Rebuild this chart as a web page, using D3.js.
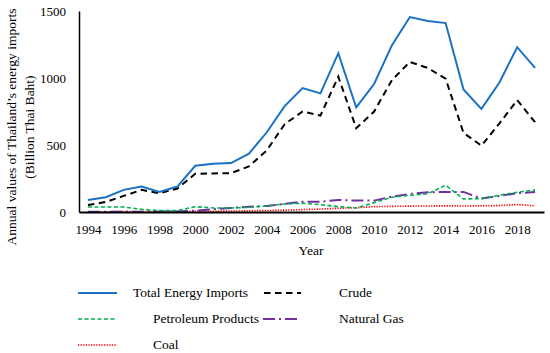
<!DOCTYPE html>
<html><head><meta charset="utf-8">
<script src="https://cdn.jsdelivr.net/npm/d3@7"></script>
<style>body{margin:0;background:#fff}svg{display:block}</style>
</head><body><svg id="c" width="550" height="353"></svg>
<script>
const years = d3.range(1994, 2020);
const totalImports = [90,110,165,190,150,190,345,360,365,435,595,790,925,885,1185,780,955,1245,1455,1425,1410,915,770,965,1230,1075];
const crude = [52,75,120,165,140,175,285,288,290,340,460,655,750,720,1010,625,750,985,1120,1075,995,590,495,660,835,670];
const petroleum = [37,37,37,20,10,10,40,30,30,35,45,60,65,55,40,30,70,110,125,135,200,97,100,125,147,165];
const naturalGas = [2,2,2,2,3,4,10,20,30,40,45,60,77,77,90,85,85,115,135,147,150,150,100,120,140,150];
const coal = [2,2,3,3,3,4,5,6,7,9,11,14,18,22,28,32,40,42,44,45,46,45,46,48,56,46];
const xTicks = d3.range(1994, 2019, 2);
const yTicks = [0,500,1000,1500];

const series = [
  {name:"Total Energy Imports", values: totalImports, color:"#1a72c4", dash:null, w:2},
  {name:"Crude", values: crude, color:"#000", dash:"6.5,4.5", w:2},
  {name:"Petroleum Products", values: petroleum, color:"#00b050", dash:"4,2.5", w:1.6},
  {name:"Natural Gas", values: naturalGas, color:"#7030a0", dash:"12,4,2,4", w:2},
  {name:"Coal", values: coal, color:"#ff0000", dash:"1.3,1.3", w:1.6}
];

const FONT = "'Liberation Serif','DejaVu Serif',serif";
const svg = d3.select("#c").attr("font-family", FONT);
const x = d3.scaleLinear().domain([1993.5, 2019.5]).range([79, 544]);
const y = d3.scaleLinear().domain([0, 1500]).range([212, 11]);

const line = d3.line().x((d,i)=>x(years[i])).y(d=>y(d));
[...series].reverse().forEach(s=>{
  svg.append("path").attr("d", line(s.values)).attr("fill","none")
    .attr("stroke", s.color).attr("stroke-width", s.w)
    .attr("stroke-dasharray", s.dash);
});

const xAxis = d3.axisBottom(x).tickValues(xTicks).tickFormat(d3.format("d")).tickSize(0).tickPadding(13);
const gx = svg.append("g").attr("transform","translate(0,212)").call(xAxis)
  .attr("font-family", FONT).attr("font-size", 13);
gx.select(".domain").attr("stroke","#000").attr("stroke-width",2);
gx.selectAll("text").attr("fill","#000");

const yAxis = d3.axisLeft(y).tickValues(yTicks).tickFormat(d3.format("d")).tickSize(0).tickPadding(13);
const gy = svg.append("g").attr("transform","translate(79,0)").call(yAxis)
  .attr("font-family", FONT).attr("font-size", 13);
gy.select(".domain").attr("stroke","#000").attr("stroke-width",1.5);
gy.selectAll("text").attr("fill","#000");

svg.append("text").attr("x",311).attr("y",255).attr("text-anchor","middle")
  .attr("font-family", FONT).attr("font-size","13.5px").text("Year");

const yl = svg.append("text").attr("transform","translate(0,127) rotate(-90)").attr("text-anchor","middle")
  .attr("font-family", FONT).attr("font-size","13.5px");
yl.append("tspan").attr("x",0).attr("y",16).text("Annual values of Thailand’s energy imports");
yl.append("tspan").attr("x",0).attr("y",34).text("(Billion Thai Baht)");

const leg = [
  {s:0, x1:78, x2:117, ty:293, tx:133},
  {s:1, x1:264, x2:301, ty:293, tx:339},
  {s:2, x1:78, x2:117, ty:319, tx:153},
  {s:3, x1:263, x2:297, ty:319, tx:339},
  {s:4, x1:78, x2:116, ty:345, tx:153}
];
leg.forEach(l=>{
  const s = series[l.s];
  svg.append("line").attr("x1",l.x1).attr("x2",l.x2).attr("y1",l.ty).attr("y2",l.ty)
    .attr("stroke",s.color).attr("stroke-width",s.w).attr("stroke-dasharray",s.dash);
  svg.append("text").attr("x",l.tx).attr("y",l.ty+4).attr("font-family", FONT)
    .attr("font-size","13.5px").text(s.name);
});
</script></body></html>
